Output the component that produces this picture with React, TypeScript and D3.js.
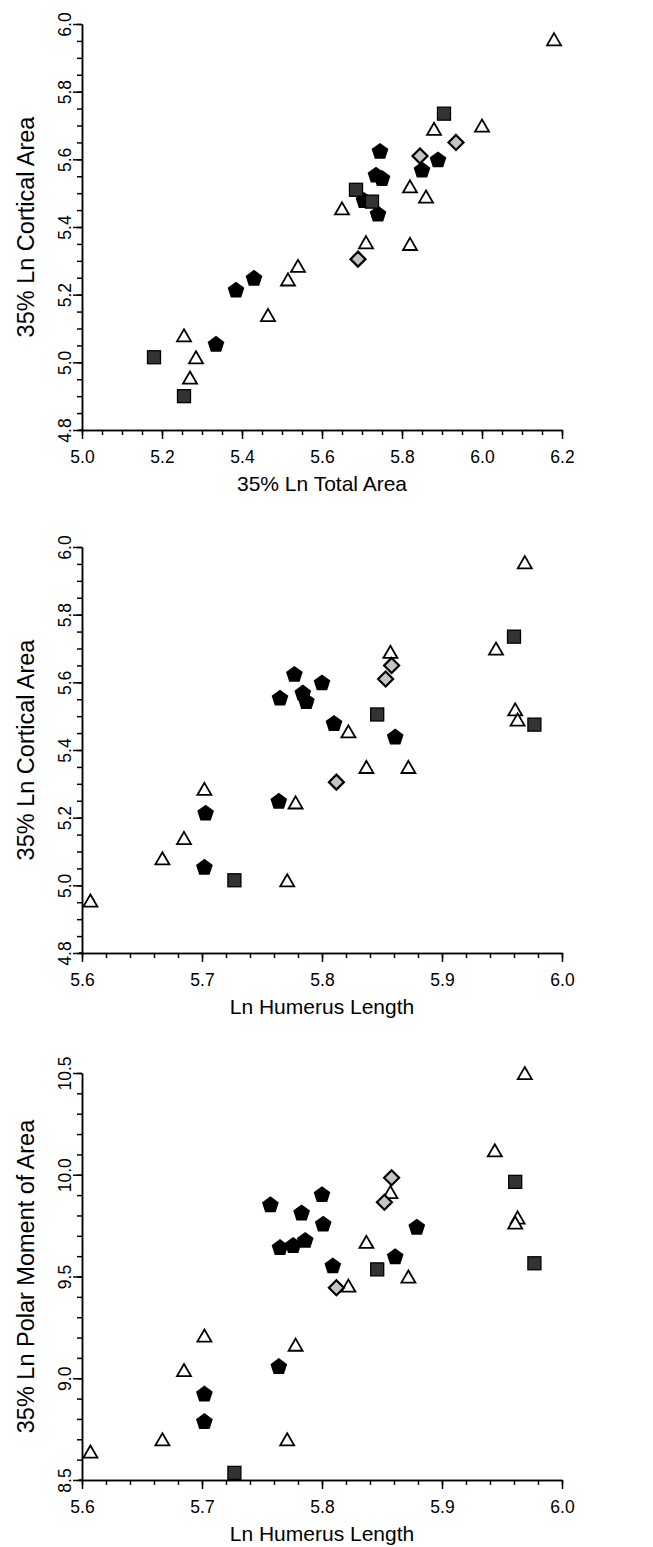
import React, { useRef, useEffect } from 'react';
import * as d3 from 'd3';

// panel 1: 35% Ln Total Area vs 35% Ln Cortical Area
const triangles1 = [[6.18, 5.955], [5.88, 5.69], [6.0, 5.70], [5.82, 5.52], [5.86, 5.49], [5.65, 5.455], [5.71, 5.355], [5.82, 5.35], [5.54, 5.285], [5.515, 5.245], [5.465, 5.14], [5.255, 5.08], [5.285, 5.015], [5.27, 4.955]];
const pentagons1 = [[5.745, 5.625], [5.89, 5.60], [5.85, 5.57], [5.735, 5.555], [5.75, 5.545], [5.705, 5.48], [5.74, 5.44], [5.43, 5.25], [5.385, 5.215], [5.335, 5.055]];
const squares1 = [[5.905, 5.735], [5.685, 5.51], [5.725, 5.475], [5.18, 5.015], [5.255, 4.9]];
const diamonds1 = [[5.935, 5.65], [5.845, 5.61], [5.69, 5.305]];

// panel 2: Ln Humerus Length vs 35% Ln Cortical Area
const triangles2 = [[5.969, 5.955], [5.945, 5.70], [5.857, 5.69], [5.961, 5.52], [5.963, 5.49], [5.822, 5.455], [5.837, 5.35], [5.872, 5.35], [5.702, 5.285], [5.778, 5.245], [5.685, 5.14], [5.667, 5.08], [5.771, 5.015], [5.607, 4.955]];
const pentagons2 = [[5.777, 5.625], [5.80, 5.60], [5.784, 5.57], [5.765, 5.555], [5.787, 5.545], [5.81, 5.48], [5.861, 5.44], [5.764, 5.25], [5.703, 5.215], [5.702, 5.055]];
const squares2 = [[5.96, 5.735], [5.846, 5.505], [5.977, 5.475], [5.727, 5.015]];
const diamonds2 = [[5.858, 5.65], [5.853, 5.61], [5.812, 5.305]];

// panel 3: Ln Humerus Length vs 35% Ln Polar Moment of Area
const triangles3 = [[5.969, 10.50], [5.944, 10.12], [5.857, 9.915], [5.963, 9.79], [5.961, 9.765], [5.837, 9.67], [5.872, 9.50], [5.822, 9.455], [5.702, 9.21], [5.778, 9.165], [5.685, 9.04], [5.667, 8.70], [5.771, 8.70], [5.607, 8.64]];
const pentagons3 = [[5.757, 9.855], [5.80, 9.905], [5.783, 9.815], [5.801, 9.76], [5.879, 9.745], [5.786, 9.68], [5.776, 9.655], [5.765, 9.645], [5.861, 9.60], [5.809, 9.555], [5.764, 9.06], [5.702, 8.925], [5.702, 8.79]];
const squares3 = [[5.961, 9.965], [5.977, 9.565], [5.846, 9.535], [5.727, 8.535]];
const diamonds3 = [[5.858, 9.985], [5.852, 9.865], [5.812, 9.445]];

const xTitles = ['35% Ln Total Area', 'Ln Humerus Length', 'Ln Humerus Length'];
const yTitles = ['35% Ln Cortical Area', '35% Ln Cortical Area', '35% Ln Polar Moment of Area'];

const FONT = '"Liberation Sans", Arial, Helvetica, sans-serif';

const panels = [
  { top: 24, bottom: 430, xDomain: [5.0, 6.2], yDomain: [4.8, 6.0], xMajor: 0.2, xMinor: 0.05, yMajor: 0.2, yMinor: 0.05,
    tri: triangles1, pent: pentagons1, sq: squares1, dia: diamonds1 },
  { top: 547, bottom: 953, xDomain: [5.6, 6.0], yDomain: [4.8, 6.0], xMajor: 0.1, xMinor: 0.02, yMajor: 0.2, yMinor: 0.05,
    tri: triangles2, pent: pentagons2, sq: squares2, dia: diamonds2 },
  { top: 1073, bottom: 1480, xDomain: [5.6, 6.0], yDomain: [8.5, 10.5], xMajor: 0.1, xMinor: 0.02, yMajor: 0.5, yMinor: 0.1,
    tri: triangles3, pent: pentagons3, sq: squares3, dia: diamonds3 },
];

const left = 82;
const right = 562;

const steps = (lo, hi, step) => d3.range(0, Math.round((hi - lo) / step) + 1).map(i => +(lo + i * step).toFixed(4));

const trianglePath = (s) => {
  const h = s * Math.sqrt(3) / 2;
  return `M0,${-h / 2}L${s / 2},${h / 2}L${-s / 2},${h / 2}Z`;
};
const pentagonPath = (r) => {
  const pts = d3.range(5).map(i => {
    const a = -Math.PI / 2 + i * 2 * Math.PI / 5;
    return [r * Math.cos(a), r * Math.sin(a) + r * 0.1];
  });
  return 'M' + pts.map(p => p.join(',')).join('L') + 'Z';
};

const App = () => {
  const svgRef = useRef();

  useEffect(() => {
    const svg = d3.select(svgRef.current);
    svg.selectAll('*').remove();

    panels.forEach((p, i) => {
      const x = d3.scaleLinear().domain(p.xDomain).range([left, right]);
      const y = d3.scaleLinear().domain(p.yDomain).range([p.bottom, p.top]);
      const g = svg.append('g');
      const fmt = d3.format('.1f');

      // minor ticks
      const xAxisMinor = d3.axisBottom(x).tickValues(steps(p.xDomain[0], p.xDomain[1], p.xMinor)).tickSize(5).tickSizeOuter(0).tickFormat('');
      const yAxisMinor = d3.axisLeft(y).tickValues(steps(p.yDomain[0], p.yDomain[1], p.yMinor)).tickSize(5).tickSizeOuter(0).tickFormat('');
      g.append('g').attr('transform', `translate(0,${p.bottom})`).call(xAxisMinor);
      g.append('g').attr('transform', `translate(${left},0)`).call(yAxisMinor);

      // major ticks
      const xAxis = d3.axisBottom(x).tickValues(steps(p.xDomain[0], p.xDomain[1], p.xMajor)).tickSize(9).tickSizeOuter(0).tickFormat(fmt);
      const yAxis = d3.axisLeft(y).tickValues(steps(p.yDomain[0], p.yDomain[1], p.yMajor)).tickSize(9).tickSizeOuter(0).tickFormat(fmt);
      const gx = g.append('g').attr('transform', `translate(0,${p.bottom})`).call(xAxis);
      const gy = g.append('g').attr('transform', `translate(${left},0)`).call(yAxis);

      gx.selectAll('text').attr('y', 33).attr('dy', 0);
      gy.selectAll('text').attr('x', 0).attr('dy', 0)
        .attr('text-anchor', 'middle')
        .attr('transform', 'translate(-11.5,0) rotate(-90)');

      // x axis line runs a little past the y axis
      g.append('line')
        .attr('x1', left - 3).attr('x2', left)
        .attr('y1', p.bottom).attr('y2', p.bottom);

      g.selectAll('.domain, .tick line, line').attr('stroke', '#000').attr('stroke-width', 1.5);
      g.selectAll('.tick text').attr('fill', '#000').style('font-family', FONT).style('font-size', '17.5px');

      // axis titles
      g.append('text')
        .attr('x', (left + right) / 2).attr('y', p.bottom + 61)
        .attr('text-anchor', 'middle')
        .style('font-family', FONT).style('font-size', '21px')
        .text(xTitles[i]);
      g.append('text')
        .attr('transform', `translate(33.5,${(p.top + p.bottom) / 2}) rotate(-90)`)
        .attr('text-anchor', 'middle')
        .style('font-family', FONT).style('font-size', '23.5px')
        .text(yTitles[i]);

      // points
      g.selectAll('.tri').data(p.tri).enter().append('path')
        .attr('d', trianglePath(14))
        .attr('transform', d => `translate(${x(d[0])},${y(d[1])})`)
        .attr('fill', '#fff').attr('stroke', '#000').attr('stroke-width', 1.8).attr('stroke-linejoin', 'miter');
      g.selectAll('.pent').data(p.pent).enter().append('path')
        .attr('d', pentagonPath(8.8))
        .attr('transform', d => `translate(${x(d[0])},${y(d[1])})`)
        .attr('fill', '#000');
      g.selectAll('.sq').data(p.sq).enter().append('rect')
        .attr('x', d => x(d[0]) - 6.5).attr('y', d => y(d[1]) - 6.5)
        .attr('width', 13).attr('height', 13)
        .attr('fill', '#333').attr('stroke', '#000').attr('stroke-width', 1.3);
      g.selectAll('.dia').data(p.dia).enter().append('path')
        .attr('d', 'M0,-7.5L7.5,0L0,7.5L-7.5,0Z')
        .attr('transform', d => `translate(${x(d[0])},${y(d[1])})`)
        .attr('fill', '#c4c4c4').attr('stroke', '#000').attr('stroke-width', 2.2);
    });
  }, []);

  return (
    <div style={{ position: 'absolute', left: 0, top: 0 }}>
      <svg ref={svgRef} width={653} height={1547} style={{ display: 'block', background: '#fff' }}></svg>
    </div>
  );
};

export default App;
